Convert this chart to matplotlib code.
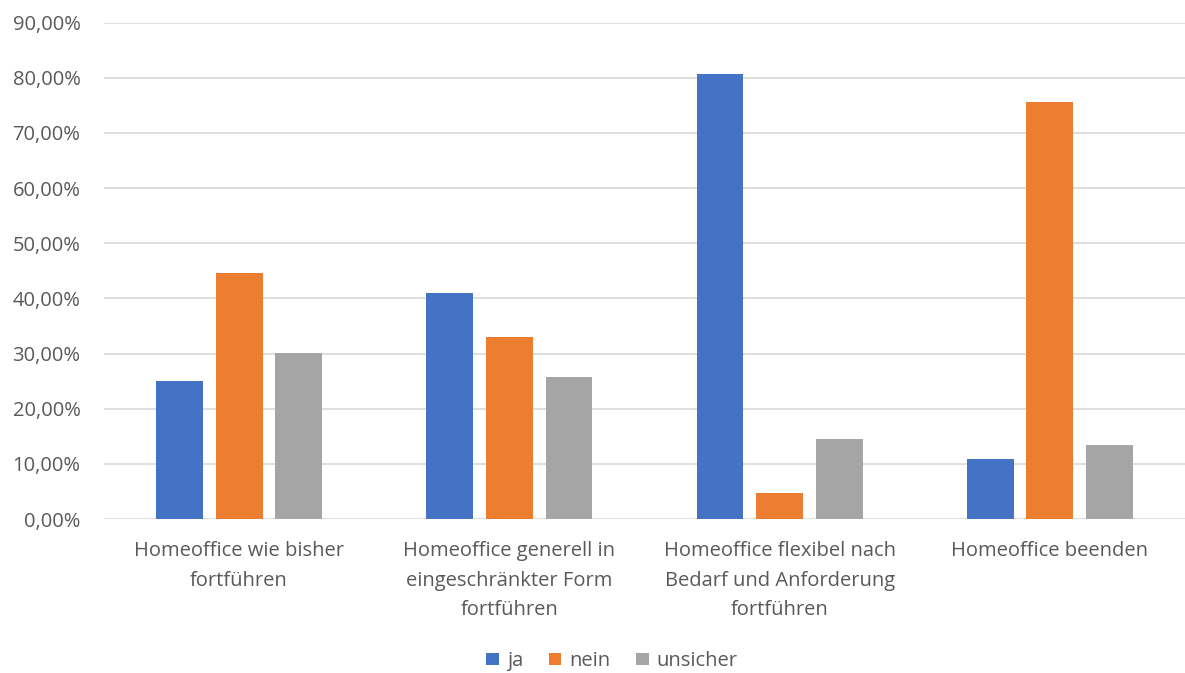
import matplotlib.pyplot as plt
import numpy as np
from matplotlib.ticker import FuncFormatter

categories = [
    "Homeoffice wie bisher\nfortführen",
    "Homeoffice generell in\neingeschränkter Form\nfortführen",
    "Homeoffice flexibel nach\nBedarf und Anforderung\nfortführen",
    "Homeoffice beenden",
]
ja = [25.1, 41.0, 80.7, 10.9]
nein = [44.7, 33.0, 4.8, 75.6]
unsicher = [30.1, 25.7, 14.5, 13.5]
series_names = ["ja", "nein", "unsicher"]
colors = ["#4472C4", "#ED7D31", "#A5A5A5"]

plt.rcParams['font.family'] = ['Open Sans', 'DejaVu Sans']
text_color = "#595959"

fig = plt.figure(figsize=(11.85, 6.73), dpi=100)
ax = fig.add_axes([104 / 1185, 1 - 519 / 673, 1081 / 1185, (519 - 22.7) / 673])

x = np.arange(len(categories))
width = 0.173
step = 0.221
for i, (vals, name, c) in enumerate(zip([ja, nein, unsicher], series_names, colors)):
    ax.bar(x + (i - 1) * step, vals, width, color=c, label=name, zorder=3)

ax.set_xlim(-0.5, len(categories) - 0.5)
ax.set_ylim(0, 90)
ax.set_yticks(np.arange(0, 91, 10))
ax.yaxis.set_major_formatter(FuncFormatter(lambda v, p: f"{v:.2f}%".replace(".", ",")))
ax.set_xticks(x)
ax.set_xticklabels(categories, linespacing=1.63)
ax.grid(axis='y', color='#D9D9D9', linewidth=1.2, zorder=0)
for s in ax.spines.values():
    s.set_visible(False)
ax.tick_params(axis='both', length=0, labelsize=14.5, colors=text_color)
ax.tick_params(axis='x', pad=16)
ax.tick_params(axis='y', pad=17)

leg = fig.legend(loc='center', bbox_to_anchor=(612 / 1185, 1 - 661 / 673), ncol=3,
                 frameon=False, fontsize=14.5, handlelength=0.6, handleheight=0.6,
                 handletextpad=0.4, columnspacing=1.3)
for t in leg.get_texts():
    t.set_color(text_color)

fig.savefig("out.png", dpi=100)
